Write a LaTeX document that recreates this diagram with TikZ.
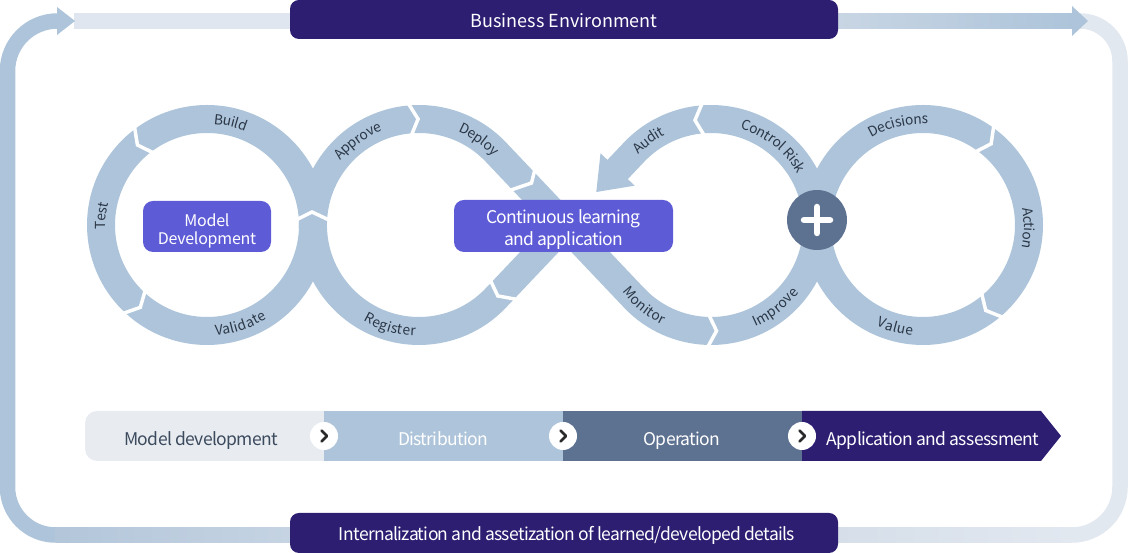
\documentclass[tikz,border=0pt]{standalone}
\usepackage{fontspec}
\setmainfont{Noto Sans CJK KR}
\newfontfamily\tightfont[LetterSpace=-3.8]{Noto Sans CJK KR}
\newfontfamily\semitight[LetterSpace=-1.5]{Noto Sans CJK KR}
\usetikzlibrary{calc,decorations.text}
\definecolor{band}{HTML}{ADC4DA}
\definecolor{navy}{HTML}{2D1E72}
\definecolor{purp}{HTML}{5E5BD6}
\definecolor{slate}{HTML}{5D7191}
\definecolor{lbl}{HTML}{2B3747}
\definecolor{lightg}{HTML}{E8ECF1}
\definecolor{frA}{HTML}{DFE6EF}
\definecolor{frB}{HTML}{E2E8F0}
\definecolor{frC}{HTML}{C9D6E4}
\definecolor{frD}{HTML}{D5DEE9}
\definecolor{frE}{HTML}{B3C6DA}
\definecolor{frF}{HTML}{C6D4E3}
\definecolor{darktxt}{HTML}{3C4A5D}
\definecolor{chevc}{HTML}{2A2A2A}
\newcommand\lblfont{\fontsize{13.8}{14}\selectfont\color{lbl}}
\tikzset{
  ringband/.style={line width=28pt, draw=band},
  frameband/.style={line width=15.5pt},
  notchln/.style={draw=white, line width=3.5pt, line join=miter},
  lblpath/.style={decorate, decoration={text along path, text={|\lblfont|#1}, text align=center, raise=-4.9pt}},
  navybox/.style={fill=navy, rounded corners=9pt, inner sep=0pt, text=white},
  purpbox/.style={fill=purp, rounded corners=10pt, inner sep=0pt, text=white, align=center},
  bartext/.style={inner sep=0pt, anchor=base, font=\tightfont\fontsize{17.5}{20}\selectfont},
  chevcirc/.style={circle, fill=white, minimum size=28pt, inner sep=0pt},
  chevln/.style={draw=chevc, line width=2.8pt, line cap=round, line join=round},
}
\newcommand\notch[3]{\draw[notchln] ($(#1)+({#2-#3*5}:124)$) -- ($(#1)+(#2:106)$) -- ($(#1)+({#2-#3*5}:88)$);}
\newcommand\toplbl[3]{\path[lblpath={#3}] ($(#1)+({#2+50}:106)$) arc[start angle={#2+50}, end angle={#2-50}, radius=106];}
\newcommand\botlbl[3]{\path[lblpath={#3}] ($(#1)+({#2-50}:106)$) arc[start angle={#2-50}, end angle={#2+50}, radius=106];}
\begin{document}
\begin{tikzpicture}[x=1pt,y=1pt]
\useasboundingbox (0,0) rectangle (1128,553);
% ---------- outer frame ----------
\draw[frameband, draw=band] (300,18) -- (55.5,18) arc (270:180:48) -- (7.5,482) arc (180:90:50) -- (60,532);
\shade[left color=frE, right color=frF] (55.5,10.25) rectangle (300,25.75);
\fill[frA] (74,524.25) rectangle (295,539.75);
\draw[frameband, draw=frB] (1072,532) -- (1080,532) arc (90:0:40) -- (1120,66) arc (0:-90:48) -- (1072,18) -- (830,18);
\shade[left color=frD, right color=frB] (830,10.25) rectangle (1072,25.75);
\shade[left color=frC, right color=band] (830,524.25) rectangle (1074,539.75);
\fill[band] (57,546) -- (75,532) -- (57,518) -- cycle;
\fill[band] (1072,547) -- (1088,532) -- (1072,517) -- cycle;
\node[navybox, minimum width=548pt, minimum height=39pt] (be) at (564,533.5) {};
\node[text=white, inner sep=0pt, font=\fontsize{18}{20}\selectfont] (bet) at (564,532.5) {Business Environment};
\node[navybox, minimum width=548pt, minimum height=40pt] (ia) at (564,20) {};
\node[text=white, inner sep=0pt, font=\tightfont\fontsize{17.5}{20}\selectfont] (iat) at (567,18) {Internalization and assetization of learned/developed details};
% ---------- stage bar ----------
\fill[lightg] (324,92) -- (97,92) arc (270:180:12) -- (85,130) arc (180:90:12) -- (324,142) -- cycle;
\fill[band] (324,92) rectangle (563,142);
\fill[slate] (563,92) rectangle (802,142);
\fill[navy] (802,92) -- (1041,92) -- (1061,117) -- (1041,142) -- (802,142) -- cycle;
\node[bartext, text=darktxt] (s1) at (201,107.5) {Model development};
\node[bartext, text=white] (s2) at (443,107.5) {Distribution};
\node[bartext, text=white] (s3) at (682,107.5) {Operation};
\node[bartext, text=white] (s4) at (933,107.5) {Application and assessment};
\foreach \cx/\nm in {324/k1,563/k2,802/k3}{
  \node[chevcirc] (\nm) at (\cx,117) {};
  \draw[chevln] ($(\nm)+(-2.5,5.5)$) -- ($(\nm)+(3,0)$) -- ($(\nm)+(-2.5,-5.5)$);
}
% ---------- infinity bands ----------
\coordinate (C1) at (207,328);
\coordinate (C2) at (419,328);
\coordinate (C3) at (711,328);
\coordinate (C4) at (923,328);
\draw[ringband] (C1) circle (106);
\draw[ringband] (C4) circle (106);
\draw[ringband] (565,328) -- (495.9,255.1) arc (316.55:43.45:106) -- (634.1,255.1) arc (223.45:496.55:106) -- (616.2,382.0);
\fill[band] (634.7,367.3) -- (596.3,361.0) -- (600.5,399.7) -- cycle;
% notches
\notch{C1}{131}{1}
\notch{C1}{231}{1}
\notch{C2}{90.5}{-1}
\notch{C2}{318}{-1}
\notch{C3}{98.7}{1}
\notch{C3}{273}{1}
\notch{C4}{50}{-1}
\notch{C4}{-53.7}{-1}
\draw[notchln] (535,384) -- (531.5,370) -- (508,362);
\draw[notchln] (296,333) -- (312,341) -- (329,333);
% labels
\toplbl{C1}{77}{Build}
\toplbl{C1}{175}{Test}
\botlbl{C1}{-71.4}{Validate}
\toplbl{C2}{126}{Approve}
\toplbl{C2}{55}{Deploy}
\botlbl{C2}{-106}{Register}
\botlbl{C3}{-129.5}{Monitor}
\botlbl{C3}{-52}{Improve}
\toplbl{C3}{126.5}{Audit}
\toplbl{C3}{51.8}{Control Risk}
\toplbl{C4}{103.8}{Decisions}
\toplbl{C4}{-1.7}{Action}
\botlbl{C4}{-105}{Value}
% centre boxes
\node[purpbox, minimum width=128pt, minimum height=51pt] (md) at (207,326.5) {};
\node[text=white, inner sep=0pt, align=center, font=\semitight\fontsize{16}{18}\selectfont] (mdt) at (207,322.5) {Model\\Development};
\node[purpbox, minimum width=219pt, minimum height=52pt] (cl) at (563.5,327) {};
\node[text=white, inner sep=0pt, align=center, font=\tightfont\fontsize{17.5}{22}\selectfont] (clt) at (563.5,323) {Continuous learning\\and application};
\node[circle, fill=slate, minimum size=60pt, inner sep=0pt] (plus) at (817,333) {};
\draw[white, line width=6.5pt, line cap=round] ($(plus)+(-13,0)$) -- ($(plus)+(13,0)$);
\draw[white, line width=6.5pt, line cap=round] ($(plus)+(0,-13)$) -- ($(plus)+(0,13)$);
\end{tikzpicture}
\end{document}
